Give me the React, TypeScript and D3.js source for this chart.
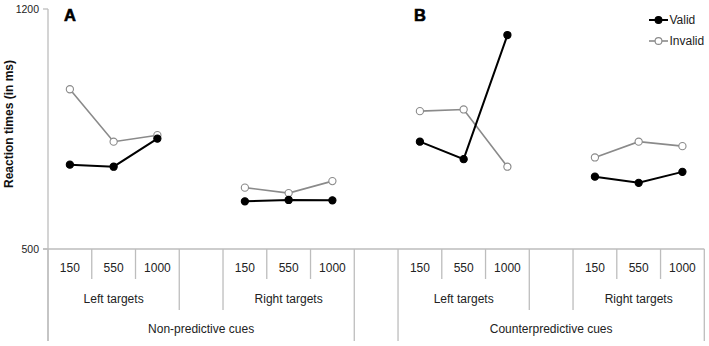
import React from "react";
import * as d3 from "d3";

const delays = ["150", "550", "1000"];
const targetLabels = ["Left targets", "Right targets"];
const cueLabels = ["Non-predictive cues", "Counterpredictive cues"];
const panelLabels = ["A", "B"];
const seriesNames = ["Valid", "Invalid"];

// values per panel: [left150, left550, left1000, right150, right550, right1000]
const validA = [746, 740, 822, 639, 643, 642];
const invalidA = [966, 813, 832, 679, 663, 698];
const validB = [813, 762, 1124, 711, 693, 725];
const invalidB = [902, 907, 740, 767, 813, 800];

const yTicks = [500, 1200];

const W = 709;
const H = 346;
const x0 = 48;
const x1 = 704.3;
const yTop = 9;
const yBot = 249;
const lvl1 = 279;
const lvl2 = 310;
const lvl3 = 341;

export default function App() {
  const slots = d3.range(15);
  const x = d3.scaleBand<number>().domain(slots).range([x0, x1]).padding(0);
  const y = d3.scaleLinear().domain([500, 1200]).range([yBot, yTop]);
  const bw = x.bandwidth();
  const edge = (i: number) => x0 + i * bw;

  const panels = [
    { valid: validA, invalid: invalidA, start: 0 },
    { valid: validB, invalid: invalidB, start: 8 },
  ];

  const line = d3
    .line<[number, number]>()
    .x((d) => d[0])
    .y((d) => d[1]);

  const level3 = [0, 7, 8, 15];
  const level2 = [3, 4, 11, 12];
  const level1 = [1, 2, 5, 6, 9, 10, 13, 14];
  const axisColor = "#bdbdbd";
  const grayLine = "#8a8a8a";
  const font = "Liberation Sans, Arial, sans-serif";

  const segs: { pts: [number, number][]; kind: number }[] = [];
  panels.forEach((p) => {
    [0, 1].forEach((side) => {
      const slotIdx = [0, 1, 2].map((k) => p.start + side * 4 + k);
      const vPts = slotIdx.map(
        (s, k) => [x(s)! + bw / 2, y(p.valid[side * 3 + k])] as [number, number]
      );
      const iPts = slotIdx.map(
        (s, k) => [x(s)! + bw / 2, y(p.invalid[side * 3 + k])] as [number, number]
      );
      segs.push({ pts: iPts, kind: 1 });
      segs.push({ pts: vPts, kind: 0 });
    });
  });

  return (
    <svg
      width={W}
      height={H}
      style={{ position: "absolute", left: 0, top: 0, background: "#fff" }}
      fontFamily={font}
    >
      {/* y axis */}
      <line x1={x0} x2={x0} y1={yTop} y2={lvl3} stroke={axisColor} strokeWidth={1.3} />
      {yTicks.map((t) => (
        <g key={t}>
          <line x1={x0 - 5} x2={x0} y1={y(t)} y2={y(t)} stroke={axisColor} strokeWidth={1.3} />
          <text x={x0 - 9} y={y(t)} dy="0.35em" textAnchor="end" fontSize={10.5} fill="#222">
            {t}
          </text>
        </g>
      ))}
      <text
        transform={`translate(13,${(yTop + yBot) / 2 - 5}) rotate(-90)`}
        textAnchor="middle"
        fontSize={12}
        fontWeight="bold"
        fill="#111"
      >
        Reaction times (in ms)
      </text>

      {/* x axis */}
      <line x1={x0 - 5} x2={x1} y1={yBot} y2={yBot} stroke={axisColor} strokeWidth={1.3} />
      {level1.map((i) => (
        <line key={"a" + i} x1={edge(i)} x2={edge(i)} y1={yBot} y2={lvl1} stroke={axisColor} strokeWidth={1.3} />
      ))}
      {level2.map((i) => (
        <line key={"b" + i} x1={edge(i)} x2={edge(i)} y1={yBot} y2={lvl2} stroke={axisColor} strokeWidth={1.3} />
      ))}
      {level3.map((i) => (
        <line key={"c" + i} x1={edge(i)} x2={edge(i)} y1={yBot} y2={lvl3} stroke={axisColor} strokeWidth={1.3} />
      ))}

      {panels.map((p, pi) => (
        <g key={"lab" + pi}>
          {[0, 1].map((side) => (
            <g key={side}>
              {delays.map((dl, k) => (
                <text
                  key={dl}
                  x={x(p.start + side * 4 + k)! + bw / 2}
                  y={268}
                  dy="0.35em"
                  textAnchor="middle"
                  fontSize={12}
                  fill="#222"
                >
                  {dl}
                </text>
              ))}
              <text
                x={(edge(p.start + side * 4) + edge(p.start + side * 4 + 3)) / 2}
                y={299}
                dy="0.35em"
                textAnchor="middle"
                fontSize={12}
                fill="#222"
              >
                {targetLabels[side]}
              </text>
            </g>
          ))}
          <text
            x={(edge(p.start) + edge(p.start + 7)) / 2}
            y={329}
            dy="0.35em"
            textAnchor="middle"
            fontSize={12}
            fill="#222"
          >
            {cueLabels[pi]}
          </text>
          <text
            x={x(p.start)! + bw / 2}
            y={15}
            dy="0.35em"
            textAnchor="middle"
            fontSize={16.5}
            fontWeight="bold"
            stroke="#000"
            strokeWidth={0.6}
            fill="#000"
          >
            {panelLabels[pi]}
          </text>
        </g>
      ))}

      {/* data */}
      {segs.map((s, i) => (
        <g key={"s" + i}>
          <path
            d={line(s.pts)!}
            fill="none"
            stroke={s.kind === 0 ? "#000" : grayLine}
            strokeWidth={s.kind === 0 ? 2 : 1.6}
          />
          {s.pts.map((pt, j) => (
            <circle
              key={j}
              cx={pt[0]}
              cy={pt[1]}
              r={3.6}
              fill={s.kind === 0 ? "#000" : "#fff"}
              stroke={s.kind === 0 ? "#000" : grayLine}
              strokeWidth={1.1}
            />
          ))}
        </g>
      ))}

      {/* legend */}
      {seriesNames.map((n, i) => {
        const ly = 20 + i * 21;
        const c = i === 0 ? "#000" : grayLine;
        return (
          <g key={n}>
            <line x1={649} x2={668} y1={ly} y2={ly} stroke={c} strokeWidth={i === 0 ? 2 : 1.6} />
            <circle cx={658.5} cy={ly} r={3.4} fill={i === 0 ? "#000" : "#fff"} stroke={c} strokeWidth={1.1} />
            <text x={669.5} y={ly} dy="0.35em" fontSize={12} fill="#222">
              {n}
            </text>
          </g>
        );
      })}
    </svg>
  );
}
